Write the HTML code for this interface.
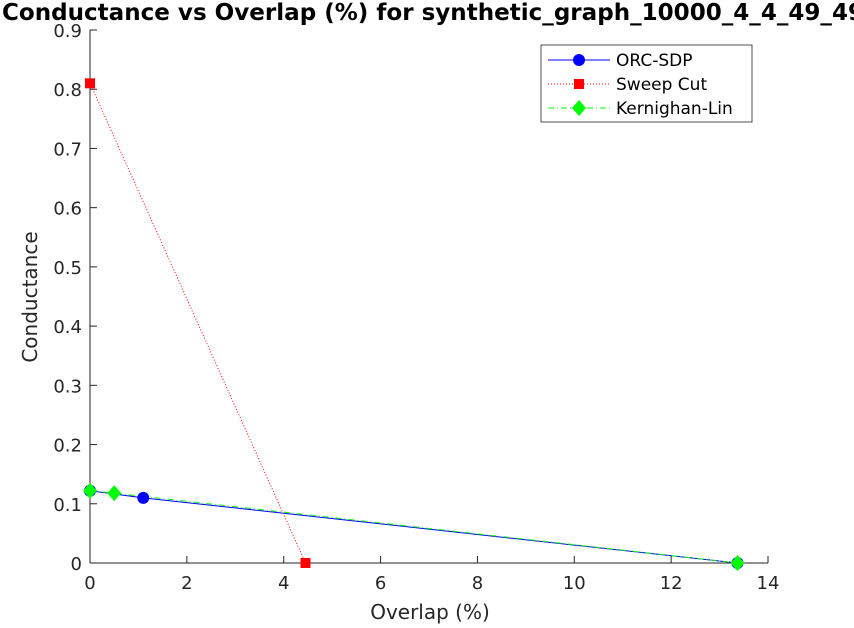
<!DOCTYPE html>
<html><head><meta charset="utf-8"><style>body{margin:0;background:#fff}svg{display:block;font-family:"DejaVu Sans","Liberation Sans",sans-serif}</style></head>
<body>
<svg id="c" width="854" height="628" viewBox="0 0 854 628">
<rect width="854" height="628" fill="#fff"/>
<text x="2" y="20" font-size="23" font-weight="bold" fill="#000" textLength="862" lengthAdjust="spacingAndGlyphs">Conductance vs Overlap (%) for synthetic_graph_10000_4_4_49_49</text>
<g id="axes"></g><g id="series"></g>
<text x="430" y="619" font-size="20" text-anchor="middle" fill="#262626">Overlap (%)</text>
<text transform="translate(37,297) rotate(-90)" font-size="20" text-anchor="middle" fill="#262626">Conductance</text>
<g>
<rect x="541" y="45" width="211" height="77" fill="#fff" stroke="#262626" stroke-width="0.8"/>
<line x1="548" y1="60" x2="610" y2="60" stroke="#0000ff" stroke-width="1"/><circle cx="579" cy="60" r="6" fill="#0000ff"/>
<text x="616" y="66" font-size="17" fill="#000">ORC-SDP</text>
<line x1="548" y1="84" x2="610" y2="84" stroke="#ff0000" stroke-width="1" stroke-dasharray="1,2"/><rect x="574" y="79" width="10" height="10" fill="#ff0000"/>
<text x="616" y="90" font-size="17" fill="#000">Sweep Cut</text>
<line x1="548" y1="108" x2="610" y2="108" stroke="#00ff00" stroke-width="1" stroke-dasharray="6,3,1,3"/><polygon points="579,100 586,108 579,116 572,108" fill="#00ff00"/>
<text x="616" y="114" font-size="17" fill="#000">Kernighan-Lin</text>
</g>
</svg>
<script>
const xTicks=[0,2,4,6,8,10,12,14];
const yTicks=[0,0.1,0.2,0.3,0.4,0.5,0.6,0.7,0.8,0.9];
const orcX=[0,1.1,13.37];
const orcY=[0.122,0.11,0];
const sweepX=[0,4.45];
const sweepY=[0.81,0];
const klX=[0,0.5,13.37];
const klY=[0.122,0.118,0];
const NS='http://www.w3.org/2000/svg';
const sx=v=>90+v*(678/14), sy=v=>563-v*(533/0.9);
function mk(t,a,p){const e=document.createElementNS(NS,t);for(const k in a)e.setAttribute(k,a[k]);p.appendChild(e);return e;}
const ax=document.getElementById('axes'), se=document.getElementById('series');
let l=mk('line',{x1:90,y1:30,x2:90,y2:563,stroke:'#262626'},ax);


l=mk('line',{x1:90,y1:563,x2:768,y2:563,stroke:'#262626'},ax);


xTicks.forEach(v=>{mk('line',{x1:sx(v),y1:563,x2:sx(v),y2:556,stroke:'#262626'},ax);
const t=mk('text',{x:sx(v),y:589,'font-size':18,'text-anchor':'middle',fill:'#262626'},ax);t.textContent=v;

});
yTicks.forEach(v=>{mk('line',{x1:90,y1:sy(v),x2:97,y2:sy(v),stroke:'#262626'},ax);
const t=mk('text',{x:82,y:sy(v)+7,'font-size':18,'text-anchor':'end',fill:'#262626'},ax);t.textContent=v;

});
function pts(X,Y){return X.map((x,i)=>sx(x)+','+sy(Y[i])).join(' ');}
let p=mk('polyline',{points:pts(orcX,orcY),fill:'none',stroke:'#0000ff','stroke-width':1},se);


p=mk('polyline',{points:pts(sweepX,sweepY),fill:'none',stroke:'#ff0000','stroke-width':1,'stroke-dasharray':'1,2'},se);


p=mk('polyline',{points:pts(klX,klY),fill:'none',stroke:'#00ff00','stroke-width':1,'stroke-dasharray':'6,3,1,3'},se);


orcX.forEach((x,i)=>{const c=mk('circle',{cx:sx(x),cy:sy(orcY[i]),r:6,fill:'#0000ff'},se);

});
sweepX.forEach((x,i)=>{const c=mk('rect',{x:sx(x)-5,y:sy(sweepY[i])-5,width:10,height:10,fill:'#ff0000'},se);

});
klX.forEach((x,i)=>{const X=sx(x),Y=sy(klY[i]);const c=mk('polygon',{points:`${X},${Y-8} ${X+7},${Y} ${X},${Y+8} ${X-7},${Y}`,fill:'#00ff00'},se);

});
</script>
</body></html>
